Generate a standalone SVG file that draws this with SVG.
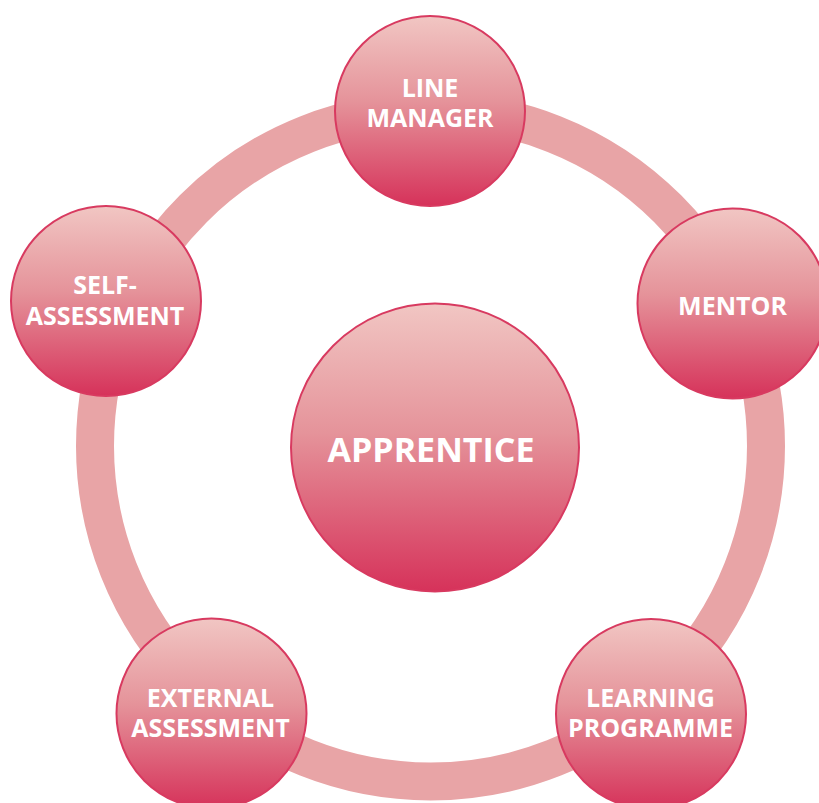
<svg xmlns="http://www.w3.org/2000/svg" width="819" height="803" viewBox="0 0 819 803">
<defs>
<linearGradient id="g" x1="0" y1="0" x2="0" y2="1">
<stop offset="0" stop-color="#f1c6c3"/>
<stop offset="0.45" stop-color="#e5939a"/>
<stop offset="1" stop-color="#d6325a"/>
</linearGradient>
<style>
.n{fill:url(#g);stroke:#d83a60;stroke-width:2}
.t{font-family:"Open Sans","DejaVu Sans",sans-serif;font-weight:bold;fill:#ffffff;text-anchor:middle;font-size:25px}
.ring{fill:none;stroke:#e8a4a6;stroke-width:38}
</style>
</defs>
<rect width="819" height="803" fill="#ffffff"/>
<g id="connectors">
<circle class="ring" cx="430.5" cy="446" r="335.5"/>
</g>
<g id="line-manager">
<circle class="n" cx="430" cy="111" r="95"/>
<text class="t" x="430" y="97">LINE</text>
<text class="t" x="430" y="127">MANAGER</text>
</g>
<g id="mentor">
<circle class="n" cx="732.5" cy="303.5" r="95"/>
<text class="t" x="732.5" y="315">MENTOR</text>
</g>
<g id="self-assessment">
<circle class="n" cx="106" cy="301" r="95"/>
<text class="t" x="105" y="294">SELF-</text>
<text class="t" x="105" y="325">ASSESSMENT</text>
</g>
<g id="apprentice">
<circle class="n" cx="435" cy="447.5" r="144"/>
<text class="t" x="431" y="462" style="font-size:34px">APPRENTICE</text>
</g>
<g id="external-assessment">
<circle class="n" cx="211.5" cy="713.5" r="95"/>
<text class="t" x="210.5" y="707">EXTERNAL</text>
<text class="t" x="210.5" y="737">ASSESSMENT</text>
</g>
<g id="learning-programme">
<circle class="n" cx="651" cy="714" r="95"/>
<text class="t" x="650.5" y="707">LEARNING</text>
<text class="t" x="650.5" y="737">PROGRAMME</text>
</g>
</svg>
